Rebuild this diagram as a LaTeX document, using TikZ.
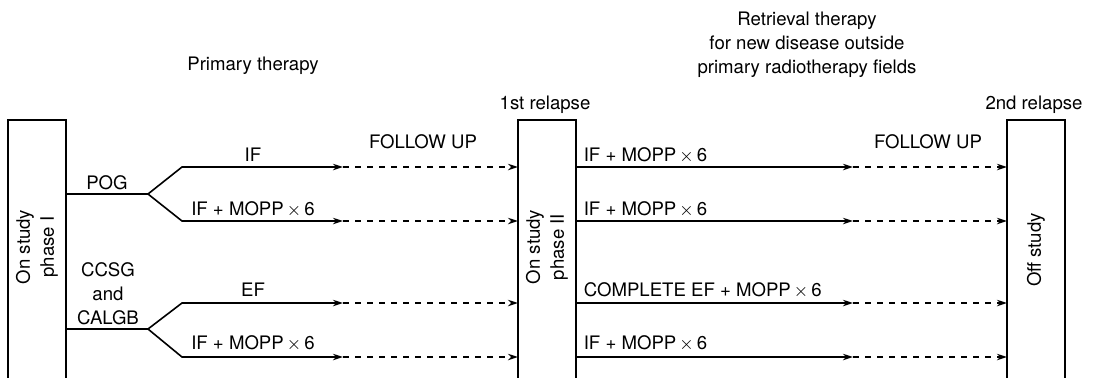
\documentclass[tikz,border=0pt]{standalone}
\usepackage{fontspec}
\setmainfont{TeX Gyre Heros}
\usetikzlibrary{arrows.meta}
\begin{document}
\begin{tikzpicture}[x=0.5pt,y=-0.5pt,>={Stealth[length=5pt,width=3.2pt]},
  line width=0.8pt,
  every node/.style={font=\fontsize{9.3}{12}\selectfont,inner sep=0pt},
  stagebox/.style={draw,rectangle,minimum width=29pt,minimum height=140pt,outer sep=0pt},
  upright/.style={rotate=90,align=center},
  fu/.style={->,dashed,dash pattern=on 3pt off 3pt}]
 \useasboundingbox (0,0) rectangle (1097,377);
 \clip (0,0) rectangle (1097,377);
 % the three stages
 \node[stagebox] (P1) at (37,260) {};
 \node[stagebox] (P2) at (547,260) {};
 \node[stagebox] (P3) at (1036,260) {};
 \node[upright] (t1) at (37,247) {On study\\phase I};
 \node[upright] (t2) at (547,247) {On study\\phase II};
 \node[upright] (t3) at (1036,250) {Off study};
 % headings
 \node (prim) at (253,66) {Primary therapy};
 \node[align=center] (retr) at (807,45) {Retrieval therapy\\for new disease outside\\primary radiotherapy fields};
 \node (rel1) at (545,105) {1st relapse};
 \node (rel2) at (1034,105) {2nd relapse};
 \node (fu1) at (423,142) {FOLLOW UP};
 \node (fu2) at (928,142) {FOLLOW UP};
 % splits
 \coordinate (pog) at (148,194);
 \coordinate (ccsg) at (148,329);
 \coordinate (a1) at (182,167); \coordinate (m1) at (343,167);
 \coordinate (a2) at (182,221); \coordinate (m2) at (343,221);
 \coordinate (a3) at (182,303); \coordinate (m3) at (343,303);
 \coordinate (a4) at (182,357); \coordinate (m4) at (343,357);
 \draw (P1.east |- pog) -- (pog);
 \draw (P1.east |- ccsg) -- (ccsg);
 \draw[->] (pog) -- (a1) -- (m1);
 \draw[->] (pog) -- (a2) -- (m2);
 \draw[->] (ccsg) -- (a3) -- (m3);
 \draw[->] (ccsg) -- (a4) -- (m4);
 \foreach \i in {1,2,3,4}
  \draw[fu] (m\i) -- (P2.west |- m\i);
 \node (pogl) at (107,183) {POG};
 \node[align=center] (ccsgl) at (108,294) {CCSG\\and\\CALGB};
 \node (l1) at (253,155) {IF};
 \node (l2) at (253,209) {IF + MOPP\,$\times$\,6};
 \node (l3) at (253,290) {EF};
 \node (l4) at (253,343) {IF + MOPP\,$\times$\,6};
 % retrieval
 \foreach \i in {1,2,3,4} {
  \coordinate (n\i) at (853,0 |- m\i);
  \draw[->] (P2.east |- m\i) -- (n\i);
  \draw[fu] (n\i) -- (P3.west |- m\i);
 }
 \node[anchor=west] (r1) at (583,155) {IF + MOPP\,$\times$\,6};
 \node[anchor=west] (r2) at (583,209) {IF + MOPP\,$\times$\,6};
 \node[anchor=west] (r3) at (583,290) {COMPLETE EF + MOPP\,$\times$\,6};
 \node[anchor=west] (r4) at (583,343) {IF + MOPP\,$\times$\,6};
\end{tikzpicture}
\end{document}
